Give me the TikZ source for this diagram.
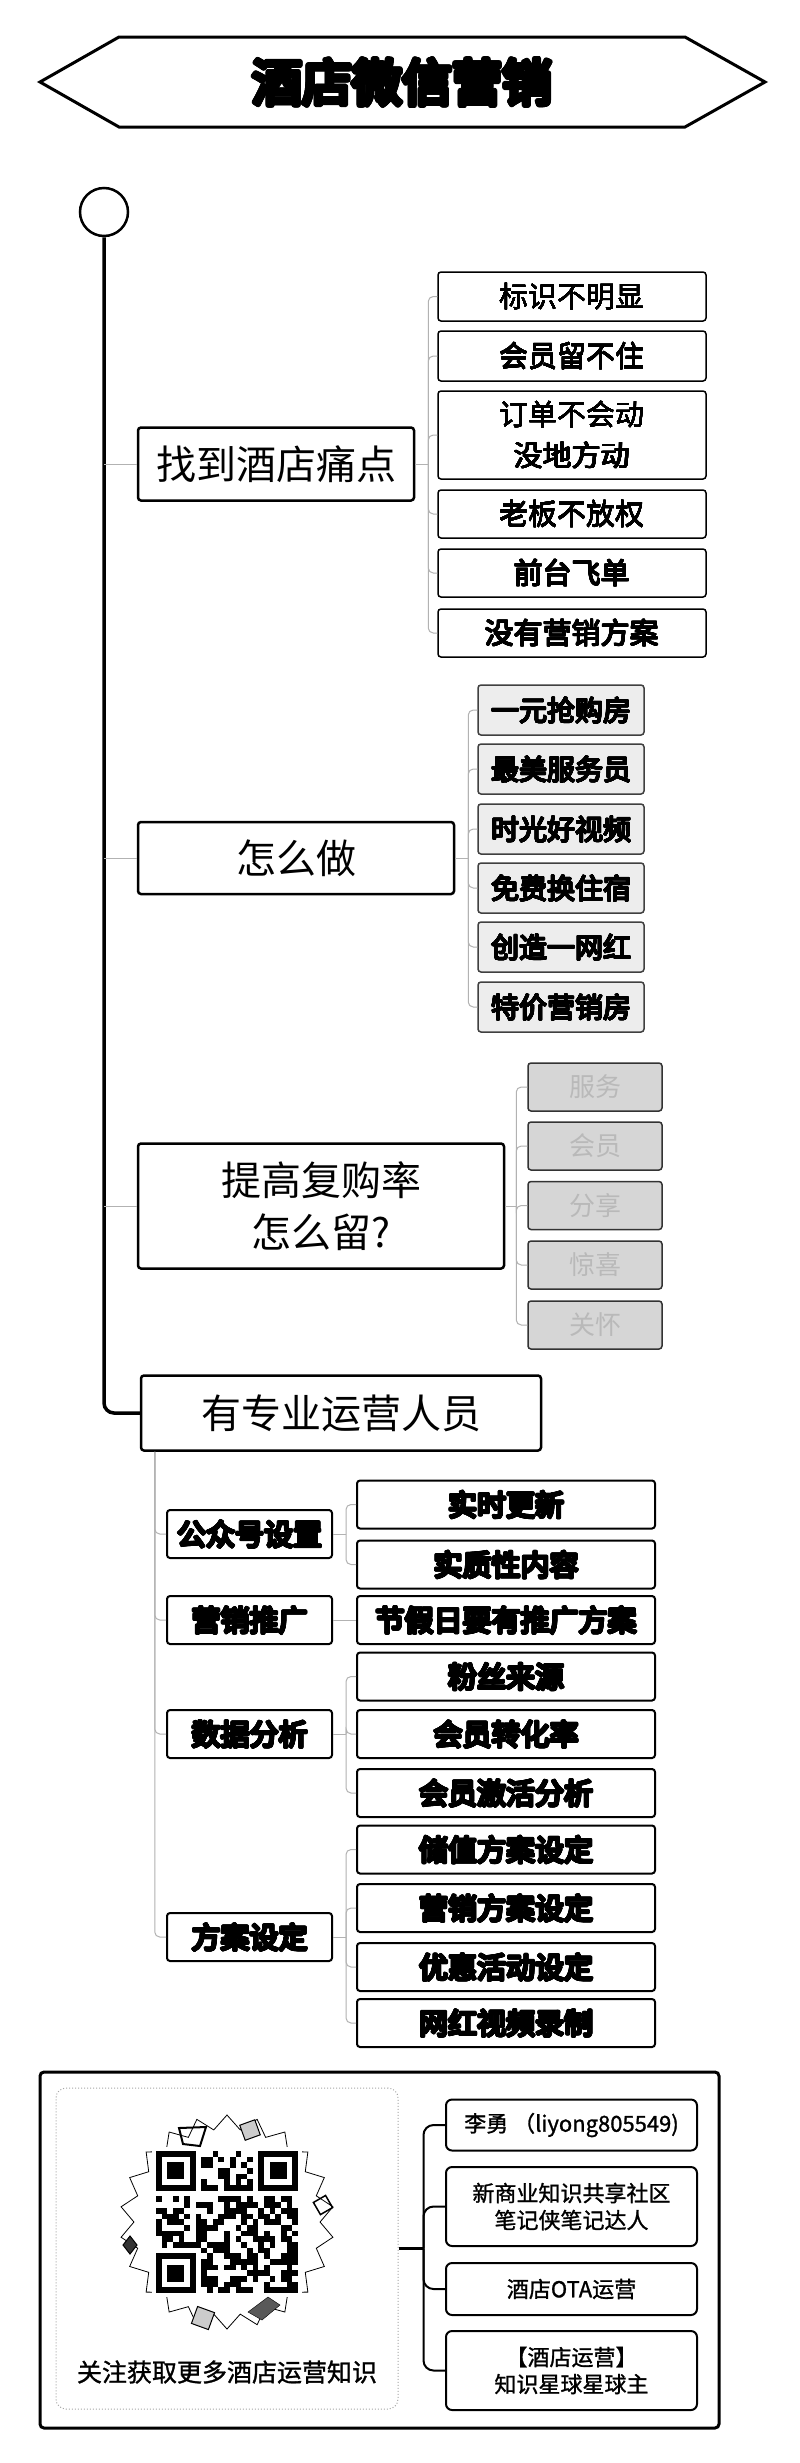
\documentclass[tikz,border=0pt]{standalone}
\usepackage{fontspec}
\setmainfont{Noto Sans CJK SC}
\newfontfamily\heavycjk{Noto Sans CJK SC}[FakeBold=2.5]
\newfontfamily\midcjk{Noto Sans CJK SC}[FakeBold=1.2]
\usetikzlibrary{shapes.geometric}

\newsavebox\hollowbox
\newcommand\hollow[3][black]{%
  \sbox\hollowbox{#3}%
  \foreach \a in {0,22.5,...,337.5}{%
    \pgfmathsetlengthmacro\hdx{#2*cos(\a)}%
    \pgfmathsetlengthmacro\hdy{#2*sin(\a)}%
    \rlap{\kern\hdx\raisebox{\hdy}{\textcolor{#1}{\usebox\hollowbox}}}}%
  \textcolor{white}{\usebox\hollowbox}}

\tikzset{
  rootbox/.style={draw, line width=2.5pt, rounded corners=3pt, fill=white, inner sep=0pt,
    align=center, font=\fontsize{40}{52}\selectfont},
  painbox/.style={draw, line width=1.5pt, rounded corners=3pt, inner sep=0pt,
    minimum width=268pt, align=center, font=\fontsize{29}{41}\selectfont},
  howbox/.style={draw=black!75, line width=1.5pt, rounded corners=3pt, fill=gray!14, inner sep=0pt,
    minimum width=166pt, minimum height=50pt, font=\fontsize{28}{34}\selectfont},
  keepbox/.style={draw=black!80, line width=1.5pt, rounded corners=3pt, fill=gray!32, inner sep=0pt,
    minimum width=134pt, minimum height=48pt, text=gray!55, font=\fontsize{26}{30}\selectfont},
  setbox/.style={draw, line width=2pt, rounded corners=3pt, inner sep=0pt,
    minimum width=165pt, minimum height=48pt, font=\fontsize{29}{34}\selectfont},
  leafbox/.style={setbox, minimum width=298pt},
  infobox/.style={draw, line width=2pt, rounded corners=6pt, inner sep=0pt, align=center,
    minimum width=251pt, font=\fontsize{22}{27}\selectfont\midcjk},
  twig/.style={draw=gray!60, line width=1pt},
  twigr/.style={twig, rounded corners=5pt},
  trunk/.style={line width=3.5pt, rounded corners=10pt},
}

\begin{document}
\begin{tikzpicture}[x=1pt,y=-1pt]
\useasboundingbox (0,0) rectangle (800,2463);
\fill[white] (0,0) rectangle (800,2463);

\draw[line width=3pt] (40,82) -- (119,37) -- (685,37) -- (765,82) -- (685,127) -- (119,127) -- cycle;
\node[font=\fontsize{50}{56}\selectfont] (title) at (402,82) {\hollow{2.2pt}{\heavycjk 酒店微信营销}};

\node[circle, draw, line width=2.5pt, minimum size=48pt, inner sep=0pt] (top) at (104,212) {};

\node[rootbox, minimum width=276pt, minimum height=73pt] (pain) at (276,464) {找到酒店痛点};
\node[painbox, minimum height=49pt] (pain1) at (572,296.5) {\hollow[black!65]{0.4pt}{标识不明显}};
\node[painbox, minimum height=50pt] (pain2) at (572,356) {\hollow[black!65]{0.4pt}{会员留不住}};
\node[painbox, minimum height=88pt] (pain3) at (572,435) {\hollow[black!65]{0.4pt}{订单不会动}\\\hollow[black!65]{0.4pt}{没地方动}};
\node[painbox, minimum height=48pt] (pain4) at (572,514) {\hollow[black!65]{0.4pt}{老板不放权}};
\node[painbox, minimum height=48pt] (pain5) at (572,573) {\hollow[black!65]{0.4pt}{前台飞单}};
\node[painbox, minimum height=48pt] (pain6) at (572,633) {\hollow[black!65]{0.4pt}{没有营销方案}};

\node[rootbox, minimum width=316pt, minimum height=72pt] (how) at (296,858) {怎么做};
\node[howbox] (how1) at (561,710) {\hollow[black!55]{0.6pt}{\midcjk 一元抢购房}};
\node[howbox] (how2) at (561,769) {\hollow[black!55]{0.6pt}{\midcjk 最美服务员}};
\node[howbox] (how3) at (561,829) {\hollow[black!55]{0.6pt}{\midcjk 时光好视频}};
\node[howbox] (how4) at (561,888) {\hollow[black!55]{0.6pt}{\midcjk 免费换住宿}};
\node[howbox] (how5) at (561,947) {\hollow[black!55]{0.6pt}{\midcjk 创造一网红}};
\node[howbox] (how6) at (561,1007) {\hollow[black!55]{0.6pt}{\midcjk 特价营销房}};

\node[rootbox, minimum width=366pt, minimum height=125pt] (keep) at (321,1206) {提高复购率\\怎么留?};
\node[keepbox] (keep1) at (595,1087) {服务};
\node[keepbox] (keep2) at (595,1146) {会员};
\node[keepbox] (keep3) at (595,1205.5) {分享};
\node[keepbox] (keep4) at (595,1265) {惊喜};
\node[keepbox] (keep5) at (595,1325) {关怀};

\node[rootbox, minimum width=400pt, minimum height=75pt] (pro) at (341,1413) {有专业运营人员};
\node[setbox] (set1) at (249.5,1534) {\hollow{1.1pt}{\heavycjk 公众号设置}};
\node[setbox] (set2) at (249.5,1620) {\hollow{1.1pt}{\heavycjk 营销推广}};
\node[setbox] (set3) at (249.5,1734) {\hollow{1.1pt}{\heavycjk 数据分析}};
\node[setbox] (set4) at (249.5,1937) {\hollow{1.1pt}{\heavycjk 方案设定}};
\node[leafbox] (leaf1) at (506,1504.5) {\hollow{1.1pt}{\heavycjk 实时更新}};
\node[leafbox] (leaf2) at (506,1564.5) {\hollow{1.1pt}{\heavycjk 实质性内容}};
\node[leafbox] (leaf3) at (506,1620) {\hollow{1.1pt}{\heavycjk 节假日要有推广方案}};
\node[leafbox] (leaf4) at (506,1676.5) {\hollow{1.1pt}{\heavycjk 粉丝来源}};
\node[leafbox] (leaf5) at (506,1734) {\hollow{1.1pt}{\heavycjk 会员转化率}};
\node[leafbox] (leaf6) at (506,1793) {\hollow{1.1pt}{\heavycjk 会员激活分析}};
\node[leafbox] (leaf7) at (506,1849.5) {\hollow{1.1pt}{\heavycjk 储值方案设定}};
\node[leafbox] (leaf8) at (506,1908) {\hollow{1.1pt}{\heavycjk 营销方案设定}};
\node[leafbox] (leaf9) at (506,1967) {\hollow{1.1pt}{\heavycjk 优惠活动设定}};
\node[leafbox] (leaf10) at (506,2023) {\hollow{1.1pt}{\heavycjk 网红视频录制}};

\draw[trunk] (top.south) |- (pro.west);
\foreach \b in {pain,how,keep}
  \draw[twig] (top.south |- \b.west) -- (\b.west);

\coordinate (painj) at ([xshift=13pt]pain.east);
\draw[twig] (pain.east) -- (painj);
\foreach \c in {1,...,6}
  \draw[twigr] (painj) |- (pain\c.west);
\coordinate (howj) at ([xshift=13pt]how.east);
\draw[twig] (how.east) -- (howj);
\foreach \c in {1,...,6}
  \draw[twigr] (howj) |- (how\c.west);
\coordinate (keepj) at ([xshift=11pt]keep.east);
\draw[twig] (keep.east) -- (keepj);
\foreach \c in {1,...,5}
  \draw[twigr] (keepj) |- (keep\c.west);

\coordinate (proj) at ([xshift=15pt]pro.south west);
\foreach \s in {1,...,4}
  \draw[twigr] (proj) |- (set\s.west);
\foreach \s in {1,...,4}{
  \coordinate (set\s j) at ([xshift=13pt]set\s.east);
  \draw[twig] (set\s.east) -- (set\s j);
}
\foreach \l in {1,2}
  \draw[twigr] (set1j) |- (leaf\l.west);
\draw[twig] (set2j) -- (leaf3.west);
\foreach \l in {4,5,6}
  \draw[twigr] (set3j) |- (leaf\l.west);
\foreach \l in {7,8,9,10}
  \draw[twigr] (set4j) |- (leaf\l.west);

\node[draw, line width=3pt, rounded corners=4pt, minimum width=679pt, minimum height=356pt] (card) at (379.5,2250) {};
\node[draw=gray!70, dotted, line width=1pt, rounded corners=10pt, minimum width=342pt, minimum height=321pt] (qrframe) at (227,2248.5) {};
\node[star, star points=22, star point ratio=1.15, draw, line width=.8pt, fill=white, minimum size=214pt, inner sep=0pt] (burst) at (227,2222) {};
\node[fill=white, minimum size=150pt, inner sep=0pt] (qr) at (227,2222) {};
\begin{scope}[shift={(156,2151)}]
  \pgfmathsetseed{4217}
  \foreach \i in {0,...,24}{
    \foreach \j in {0,...,24}{
      \pgfmathrandominteger{\q}{0}{1}
      \pgfmathtruncatemacro\infp{((\i<8)&&(\j<8))||((\i>16)&&(\j<8))||((\i<8)&&(\j>16))}
      \pgfmathtruncatemacro\qdot{\q*(1-\infp)}
      \ifnum\qdot=1 \fill (\i*5.68,\j*5.68) rectangle ++(5.68,5.68); \fi
    }
  }
  \foreach \fx/\fy in {0/0,18/0,0/18}{
    \draw[line width=5.68pt] (\fx*5.68+2.84,\fy*5.68+2.84) rectangle ++(34.08,34.08);
    \fill (\fx*5.68+11.36,\fy*5.68+11.36) rectangle ++(17.04,17.04);
  }
\end{scope}
\draw[line width=2pt] (179,2128) -- (206,2127) -- (200,2146) -- (183,2144) -- cycle;
\filldraw[fill=gray!40, line width=1pt, rotate around={20:(250,2130)}] (242,2122) rectangle (258,2138);
\draw[line width=1.5pt, rotate around={30:(323,2205)}] (316,2198) rectangle (330,2212);
\filldraw[fill=black!80, line width=1pt] (130,2236) -- (137,2245) -- (130,2254) -- (123,2245) -- cycle;
\filldraw[fill=gray!40, line width=1pt, rotate around={-20:(203,2318)}] (194,2309) rectangle (212,2327);
\filldraw[fill=black!65] (248,2312) -- (268,2297) -- (280,2305) -- (262,2320) -- cycle;
\node[font=\fontsize{25}{30}\selectfont\midcjk] (cap) at (227,2372) {关注获取更多酒店运营知识};

\node[infobox, minimum height=51pt] (info1) at (571.5,2125) {李勇 （liyong805549)};
\node[infobox, minimum height=79pt] (info2) at (571.5,2206.5) {新商业知识共享社区\\笔记侠笔记达人};
\node[infobox, minimum height=52pt] (info3) at (571.5,2289) {酒店OTA运营};
\node[infobox, minimum height=79pt] (info4) at (571.5,2370.5) {【酒店运营】\\知识星球星球主};
\coordinate (cardj) at ([xshift=25pt]qrframe.east);
\draw[line width=2.5pt] (qrframe.east) -- (cardj);
\foreach \k in {1,...,4}
  \draw[line width=2pt, rounded corners=10pt] (cardj) |- (info\k.west);
\end{tikzpicture}
\end{document}
